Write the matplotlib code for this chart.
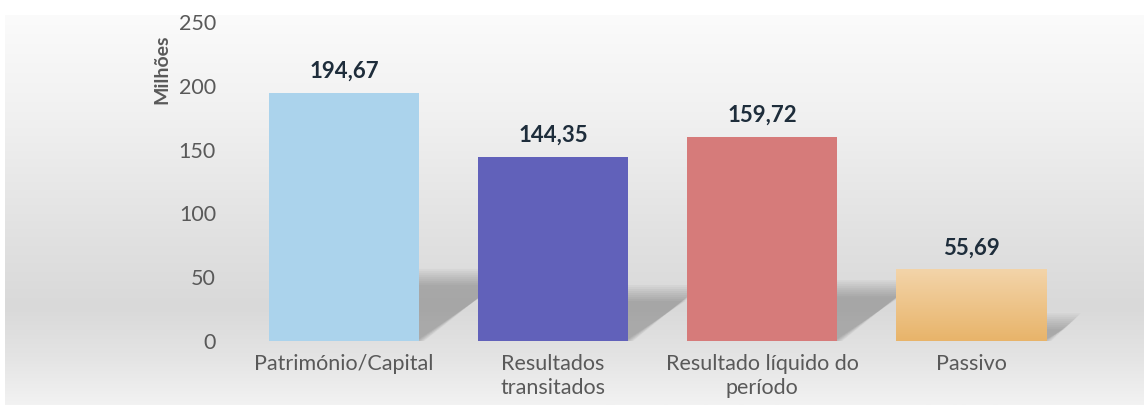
import matplotlib
matplotlib.use('Agg')
import matplotlib.pyplot as plt
import numpy as np
from matplotlib.colors import LinearSegmentedColormap
from matplotlib.patches import Polygon

categorias = ['Património/Capital', 'Resultados\ntransitados',
              'Resultado líquido do\nperíodo', 'Passivo']
valores = [194.67, 144.35, 159.72, 55.69]
rotulos = ['194,67', '144,35', '159,72', '55,69']
cores = ['#ABD3EC', '#6161BA', '#D67B7A', '#EDC48A']
yticks = [0, 50, 100, 150, 200, 250]

plt.rcParams['font.family'] = ['Lato', 'DejaVu Sans']

fig = plt.figure(figsize=(11.44, 4.05), dpi=100, facecolor='white')

# fundo com gradiente vertical
bg = fig.add_axes([0.004, 0, 0.996, 0.963], zorder=0)
bg_cmap = LinearSegmentedColormap.from_list(
    'bg', [(0.0, '#F2F2F2'), (0.12, '#E4E4E4'), (0.25, '#D9D9D9'),
           (0.45, '#E2E2E2'), (0.75, '#F1F1F1'), (1.0, '#FBFBFB')])
bg.imshow(np.linspace(0, 1, 256).reshape(-1, 1), aspect='auto', cmap=bg_cmap,
          origin='lower', extent=[0, 1, 0, 1])
bg.axis('off')

ax = fig.add_axes([0.2094, 0.158, 0.7308, 0.7877], zorder=1)
ax.patch.set_alpha(0)
x = np.arange(len(valores))
largura = 0.72

# sombras em perspectiva (difusas) atras das barras
px_x = 1 / 209.0   # unidades x por pixel
px_y = 1 / 1.276   # unidades y por pixel
for xi, v in zip(x, valores):
    xl, xr = xi - largura / 2, xi + largura / 2
    hs = 0.25 * v
    dx = 0.0021 * v
    for k in range(9):
        e = (k - 3) * 2.0
        ex, ey = e * px_x, e * px_y
        pts = [(xl, 0), (xr + ex * 0.5, 0),
               (xr + dx + ex, hs + ey), (xl + dx - ex, hs + ey)]
        ax.add_patch(Polygon(pts, closed=True, facecolor='#4A4A4A',
                             alpha=0.045, edgecolor='none', zorder=2,
                             clip_on=False))

barras = ax.bar(x, valores, width=largura, color=cores, zorder=3)

# gradiente na barra do Passivo
grad = LinearSegmentedColormap.from_list('pas', ['#E8B46A', '#F3D4A9'])
ax.imshow(np.linspace(0, 1, 128).reshape(-1, 1), aspect='auto', cmap=grad,
          origin='lower', extent=[x[3] - largura / 2, x[3] + largura / 2, 0, valores[3]],
          zorder=4)

for xi, v, r in zip(x, valores, rotulos):
    ax.annotate(r, (xi, v), xytext=(0, 8), textcoords='offset points',
                ha='center', va='bottom', fontsize=16, fontweight='bold', color='#1E2D3B')

ax.set_xlim(-0.5, len(valores) - 0.5)
ax.set_ylim(0, 250)
ax.set_yticks(yticks)
ax.set_xticks(x)
ax.set_xticklabels(categorias, fontsize=15.5, color='#595959', linespacing=1.25)
ax.tick_params(axis='y', labelsize=15.5, labelcolor='#595959', length=0, pad=17)
ax.tick_params(axis='x', length=0, pad=9)
for s in ax.spines.values():
    s.set_visible(False)

ax.set_ylabel('Milhões', fontsize=14, fontweight='bold', color='#595959')
ax.yaxis.set_label_coords(-0.083, 0.853)

fig.savefig('out.png', dpi=100)
